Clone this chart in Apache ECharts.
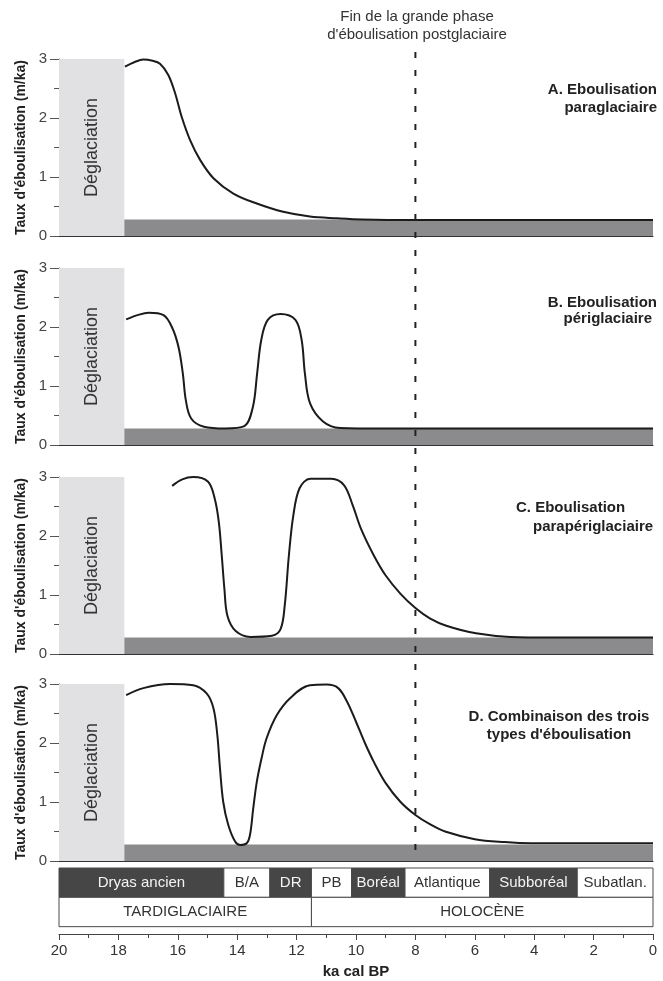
<!DOCTYPE html>
<html><head><meta charset="utf-8">
<script src="https://cdn.jsdelivr.net/npm/echarts@6/dist/echarts.min.js"></script>
<style>html,body{margin:0;padding:0;background:#fff}#c{width:663px;height:981px}</style>
</head><body><div id="c"></div>
<script>
// ---------- DATA ----------
const kaA = [17.78, 17.45, 17.16, 16.85, 16.6, 16.32, 16.09, 15.87, 15.59, 15.25, 14.80, 14.13, 13.34, 12.45, 11.55, 10.65, 9.8, 8, 6, 4, 2, 0];
const rateA = [2.87, 2.95, 2.99, 2.97, 2.92, 2.73, 2.42, 2.02, 1.63, 1.29, 0.98, 0.72, 0.55, 0.41, 0.33, 0.30, 0.28, 0.27, 0.27, 0.27, 0.27, 0.27];

const kaB = [17.74, 17.3, 16.98, 16.48, 16.2, 15.98, 15.83, 15.73, 15.55, 15.12, 14.41, 13.76, 13.47, 13.33, 13.19, 12.97, 12.54, 12.04, 11.83, 11.72, 11.55, 11.11, 10.54, 9.11, 6, 3, 0];
const rateB = [2.13, 2.21, 2.24, 2.20, 2.0, 1.67, 1.21, 0.76, 0.45, 0.31, 0.28, 0.32, 0.65, 1.21, 1.78, 2.12, 2.22, 2.12, 1.78, 1.21, 0.71, 0.40, 0.29, 0.28, 0.28, 0.28, 0.28];

const kaC = [16.19, 15.85, 15.48, 14.98, 14.76, 14.62, 14.52, 14.43, 14.33, 14.05, 13.55, 12.83, 12.54, 12.40, 12.26, 12.11, 11.90, 11.54, 10.83, 10.40, 10.11, 9.83, 9.40, 9.0, 8.5, 8.0, 7.5, 6.96, 5.96, 4.81, 3.38, 2, 0];
const rateC = [2.85, 2.96, 3.0, 2.92, 2.64, 2.24, 1.67, 1.10, 0.65, 0.39, 0.29, 0.31, 0.42, 0.82, 1.67, 2.35, 2.81, 2.97, 2.97, 2.86, 2.52, 2.12, 1.67, 1.33, 1.02, 0.78, 0.60, 0.48, 0.35, 0.29, 0.28, 0.28, 0.28];

const kaD = [17.74, 17.16, 16.26, 15.48, 15.03, 14.80, 14.67, 14.58, 14.47, 14.30, 14.07, 13.90, 13.68, 13.57, 13.46, 13.34, 13.18, 13.01, 12.67, 12.22, 11.55, 10.99, 10.6, 10.3, 10.0, 9.7, 9.40, 9.0, 8.5, 8.0, 7.5, 7.0, 6.0, 5.0, 4.11, 2, 0];
const rateD = [2.81, 2.93, 3.0, 2.98, 2.84, 2.59, 2.14, 1.57, 1.0, 0.61, 0.33, 0.27, 0.30, 0.44, 0.89, 1.34, 1.74, 2.08, 2.47, 2.76, 2.98, 2.99, 2.93, 2.70, 2.36, 2.0, 1.68, 1.32, 1.0, 0.78, 0.62, 0.50, 0.37, 0.32, 0.30, 0.30, 0.30];

const panelLabels = [
  ['A. Eboulisation', 'paraglaciaire'],
  ['B. Eboulisation', 'périglaciaire'],
  ['C. Eboulisation', 'parapériglaciaire'],
  ['D. Combinaison des trois', "types d'éboulisation"]
];
const deglaciation = [20, 17.8, 3];      // from ka, to ka, top rate
const baseBand = [17.8, 0, 0.28];        // from ka, to ka, rate
const endPhaseKa = [8];                  // end of main postglacial phase
const headerText = ['Fin de la grande phase', "d'éboulisation postglaciaire"];

const zoneNames = ['Dryas ancien', 'B/A', 'DR', 'PB', 'Boréal', 'Atlantique', 'Subboréal', 'Subatlan.'];
const zoneStart = [20, 14.45, 12.9, 11.5, 10.15, 8.35, 5.5, 2.55];
const zoneEnd   = [14.45, 12.9, 11.5, 10.15, 8.35, 5.5, 2.55, 0];
const periodNames = ['TARDIGLACIAIRE', 'HOLOCÈNE'];
const periodStart = [20, 11.5];
const periodEnd   = [11.5, 0];

const yName = "Taux d'éboulisation (m/ka)";
const xName = 'ka cal BP';

// ---------- CHART ----------
const FONT = '"Liberation Sans", Arial, sans-serif';
const chart = echarts.init(document.getElementById('c'), null, {renderer: 'canvas'});
const panelKa = [kaA, kaB, kaC, kaD];
const panelRate = [rateA, rateB, rateC, rateD];
const panelTop = [59, 268, 477, 684];

const grid = [], xAxis = [], yAxis = [], series = [];

panelKa.forEach((ka, i) => {
  grid.push({left: 59, right: 10, top: panelTop[i], height: 177});
  xAxis.push({
    type: 'value', gridIndex: i, min: 0, max: 20, inverse: true,
    axisLine: {show: true, onZero: false, lineStyle: {color: '#333', width: 1.2}},
    axisTick: {show: false}, axisLabel: {show: false}, splitLine: {show: false}
  });
  yAxis.push({
    type: 'value', gridIndex: i, min: 0, max: 3, interval: 1, position: 'left',
    axisLine: {show: true, onZero: false, lineStyle: {color: '#555'}},
    axisTick: {show: true, length: 9, lineStyle: {color: '#555'}},
    minorTick: {show: true, splitNumber: 2, length: 5, lineStyle: {color: '#555'}},
    axisLabel: {fontSize: 15, color: '#444', margin: 12, fontFamily: FONT},
    splitLine: {show: false}, minorSplitLine: {show: false},
    name: yName, nameLocation: 'middle', nameGap: 31,
    nameTextStyle: {fontSize: 14, fontWeight: 'bold', color: '#222', fontFamily: FONT}
  });
  series.push({
    type: 'custom', xAxisIndex: i, yAxisIndex: i, silent: true, z: 1,
    data: [deglaciation], encode: {x: [0, 1], y: 2},
    renderItem: (params, api) => {
      const p0 = api.coord([api.value(0), api.value(2)]);
      const p1 = api.coord([api.value(1), 0]);
      const x = Math.min(p0[0], p1[0]), w = Math.abs(p1[0] - p0[0]);
      const y = p0[1], h = p1[1] - p0[1];
      return {type: 'group', children: [
        {type: 'rect', shape: {x, y, width: w, height: h}, style: {fill: '#e1e1e3'}},
        {type: 'text', x: x + w / 2, y: y + h / 2, rotation: Math.PI / 2,
          style: {text: 'Déglaciation', fill: '#333', fontSize: 18, fontFamily: FONT, align: 'center', verticalAlign: 'middle'}}
      ]};
    }
  });
  series.push({
    type: 'custom', xAxisIndex: i, yAxisIndex: i, silent: true, z: 2,
    data: [baseBand], encode: {x: [0, 1], y: 2},
    renderItem: (params, api) => {
      const p0 = api.coord([api.value(0), api.value(2)]);
      const p1 = api.coord([api.value(1), 0]);
      return {type: 'rect', shape: {x: Math.min(p0[0], p1[0]), y: p0[1], width: Math.abs(p1[0] - p0[0]), height: p1[1] - p0[1]},
        style: {fill: '#8b8b8d'}};
    }
  });
  series.push({
    type: 'line', xAxisIndex: i, yAxisIndex: i, z: 5, silent: true,
    data: ka.map((x, k) => [x, panelRate[i][k]]),
    showSymbol: false, symbol: 'none', smooth: 0.35,
    lineStyle: {color: '#1b1b1b', width: 2}
  });
});

// Chronozone table + time axis (grid 4)
grid.push({left: 59, right: 10, top: 868, height: 66});
xAxis.push({
  type: 'value', gridIndex: 4, min: 0, max: 20, interval: 2, inverse: true,
  axisLine: {show: true, onZero: false, lineStyle: {color: '#444', width: 1.2}},
  axisTick: {show: true, length: 6, lineStyle: {color: '#444'}},
  minorTick: {show: true, splitNumber: 2, length: 4, lineStyle: {color: '#444'}},
  axisLabel: {fontSize: 15, color: '#333', margin: 9, fontFamily: FONT},
  splitLine: {show: false}, minorSplitLine: {show: false},
  name: xName, nameLocation: 'middle', nameGap: 30,
  nameTextStyle: {fontSize: 15, fontWeight: 'bold', color: '#222', fontFamily: FONT}
});
yAxis.push({type: 'value', gridIndex: 4, min: -0.25, max: 2, show: false});

function tableSeries(starts, ends, names, row, shadeAlternate) {
  return {
    type: 'custom', xAxisIndex: 4, yAxisIndex: 4, silent: true,
    data: starts.map((s, k) => [s, ends[k], row]), encode: {x: [0, 1], y: 2},
    renderItem: (params, api) => {
      const k = params.dataIndex;
      const p0 = api.coord([api.value(0), api.value(2) + 1]);
      const p1 = api.coord([api.value(1), api.value(2)]);
      const dark = shadeAlternate && k % 2 === 0;
      const x = p0[0], w = p1[0] - p0[0], y = p0[1], h = p1[1] - p0[1];
      return {type: 'group', children: [
        {type: 'rect', shape: {x, y, width: w, height: h},
          style: {fill: dark ? '#464646' : '#ffffff', stroke: '#4a4a4a', lineWidth: 1}},
        {type: 'text', x: x + w / 2, y: y + h / 2,
          style: {text: names[k], fill: dark ? '#f4f4f4' : '#333', fontSize: 15, fontFamily: FONT, align: 'center', verticalAlign: 'middle'}}
      ]};
    }
  };
}
series.push(tableSeries(zoneStart, zoneEnd, zoneNames, 1, true));
series.push(tableSeries(periodStart, periodEnd, periodNames, 0, false));

// Overlay grid for the dashed vertical line (grid 5)
grid.push({left: 59, right: 10, top: 52, height: 809});
xAxis.push({type: 'value', gridIndex: 5, min: 0, max: 20, inverse: true, show: false});
yAxis.push({type: 'value', gridIndex: 5, min: 0, max: 1, show: false});
series.push({
  type: 'line', xAxisIndex: 5, yAxisIndex: 5, silent: true, z: 6,
  data: [[endPhaseKa[0], 1], [endPhaseKa[0], 0]],
  showSymbol: false, symbol: 'none',
  lineStyle: {color: '#222', width: 2, type: [6, 12]}
});

const labelPos = [
  [{x: 657, y: 90, align: 'right'}, {x: 657, y: 108, align: 'right'}],
  [{x: 657, y: 303, align: 'right'}, {x: 652, y: 319, align: 'right'}],
  [{x: 516, y: 508, align: 'left'}, {x: 533, y: 527, align: 'left'}],
  [{x: 559, y: 717, align: 'center'}, {x: 559, y: 735, align: 'center'}]
];
const graphic = [];
panelLabels.forEach((lines, i) => {
  lines.forEach((t, j) => {
    const p = labelPos[i][j];
    graphic.push({type: 'text', x: p.x, y: p.y, z: 10, silent: true,
      style: {text: t, fill: '#222', fontSize: 15, fontWeight: 'bold', fontFamily: FONT, align: p.align, verticalAlign: 'middle'}});
  });
});
headerText.forEach((t, j) => {
  graphic.push({type: 'text', x: 417, y: 17 + j * 18, z: 10, silent: true,
    style: {text: t, fill: '#333', fontSize: 15, fontFamily: FONT, align: 'center', verticalAlign: 'middle'}});
});

chart.setOption({
  backgroundColor: '#ffffff',
  animation: false,
  textStyle: {fontFamily: FONT},
  grid, xAxis, yAxis, series, graphic
});
</script>
</body></html>
